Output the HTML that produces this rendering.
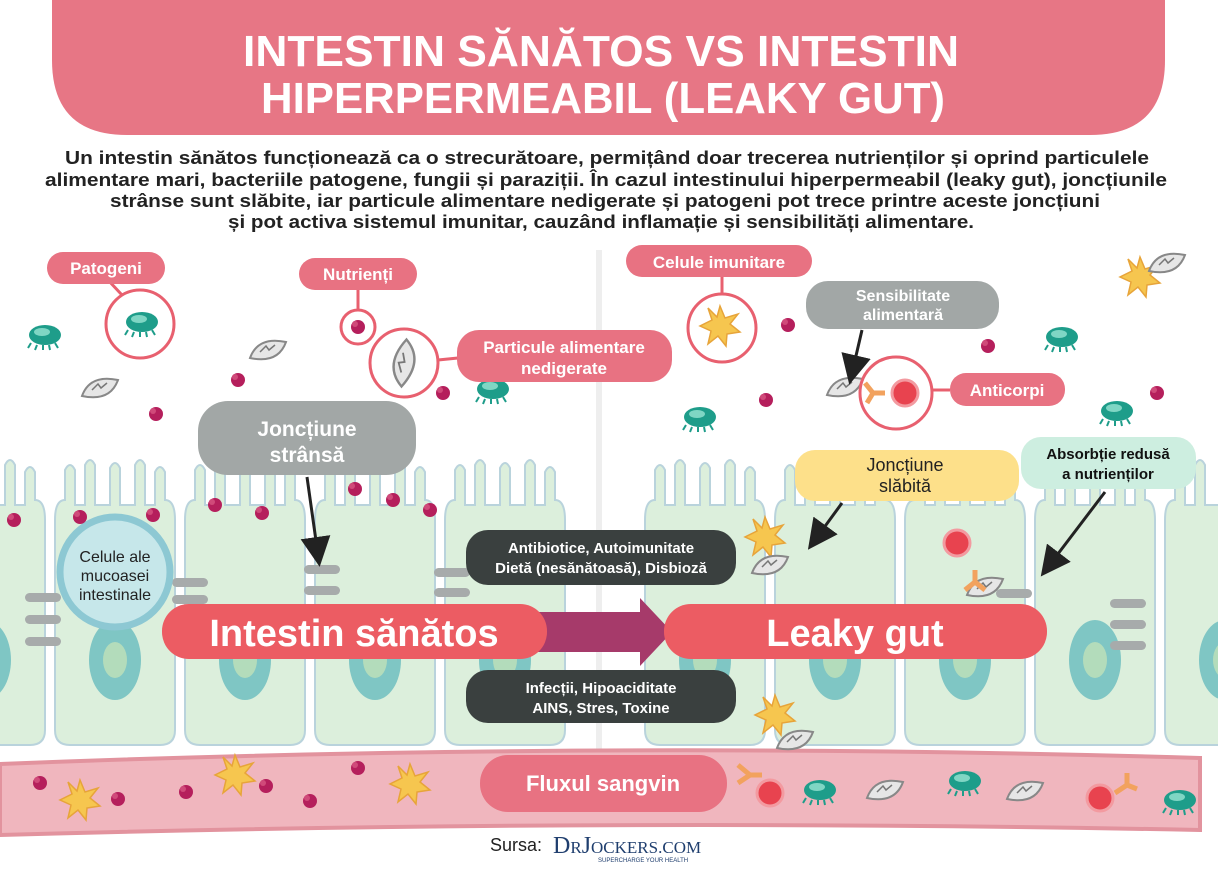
<!DOCTYPE html>
<html><head><meta charset="utf-8"><style>
html,body{margin:0;padding:0;background:#fff;}
svg{display:block;font-family:"Liberation Sans",sans-serif;}
</style></head><body>
<svg width="1218" height="870" viewBox="0 0 1218 870" xmlns="http://www.w3.org/2000/svg">
<defs>
<g id="cell">
  <path d="M5,270 L5,60 Q5,40 15,40 L15,10 Q20,0 25,10 L25,45 L35,45 L35,5 Q40,-5 45,5 L45,45 L60,45 L60,8 Q65,-2 70,8 L70,45 L85,45 L85,5 Q90,-5 95,5 L95,45 L105,45 L105,12 Q110,2 115,12 L115,40 Q125,40 125,60 L125,270 Q125,285 110,285 L20,285 Q5,285 5,270 Z" fill="#dcefdc" stroke="#b9d3dc" stroke-width="2"/>
  <ellipse cx="65" cy="200" rx="26" ry="40" fill="#7fc6c4"/>
  <ellipse cx="65" cy="200" rx="12" ry="18" fill="#c9e6b8" opacity="0.7"/>
</g>
<g id="dot"><circle r="7" fill="#b51f5c"/><circle cx="-3" cy="-3" r="3" fill="#d04a7a"/></g>
<g id="star"><polygon points="0,-20 5,-8 18,-12 10,-2 20,6 7,8 6,20 -2,10 -12,18 -9,5 -20,0 -8,-6 -12,-18 -3,-9" fill="#f6c64f" stroke="#e7a43a" stroke-width="1.5"/></g>
<g id="bug"><ellipse rx="16" ry="10" fill="#1e9d8a"/><ellipse cx="-3" cy="-3" rx="8" ry="4" fill="#7fd6c4"/><path d="M-14,8 l-3,5 M-8,10 l-2,5 M-2,10 l0,5 M4,10 l1,5 M10,8 l3,5" stroke="#1e9d8a" stroke-width="2"/></g>
<g id="par"><path d="M-18,8 Q-10,-14 18,-8 Q10,14 -18,8 Z" fill="#e6e6e6" stroke="#888" stroke-width="2"/><path d="M-8,2 l6,-6 l3,4 l6,-5" stroke="#777" fill="none" stroke-width="1.5"/></g>
<g id="junc"><rect x="-18" y="-5" width="36" height="9" rx="4.5" fill="#a7abab"/></g>
<marker id="ah" markerWidth="10" markerHeight="10" refX="6" refY="5" orient="auto"><path d="M0,0 L10,5 L0,10 Z" fill="#222"/></marker>
</defs>

<path d="M52,0 L1165,0 L1165,60 Q1165,135 1090,135 L127,135 Q52,135 52,60 Z" fill="#e77685"/>
<g fill="#fff" font-weight="bold" font-size="44" text-anchor="middle">
<text x="601" y="66" textLength="716" lengthAdjust="spacingAndGlyphs">INTESTIN SĂNĂTOS VS INTESTIN</text>
<text x="603" y="113" textLength="684" lengthAdjust="spacingAndGlyphs">HIPERPERMEABIL (LEAKY GUT)</text>
</g>
<g fill="#222" font-size="18" font-weight="bold" text-anchor="middle">
<text x="607" y="164" textLength="1084" lengthAdjust="spacingAndGlyphs">Un intestin sănătos funcționează ca o strecurătoare, permițând doar trecerea nutrienților și oprind particulele</text>
<text x="606" y="186" textLength="1122" lengthAdjust="spacingAndGlyphs">alimentare mari, bacteriile patogene, fungii și paraziții. În cazul intestinului hiperpermeabil (leaky gut), joncțiunile</text>
<text x="605" y="207" textLength="990" lengthAdjust="spacingAndGlyphs">strânse sunt slăbite, iar particule alimentare nedigerate și patogeni pot trece printre aceste joncțiuni</text>
<text x="601" y="228" textLength="746" lengthAdjust="spacingAndGlyphs">și pot activa sistemul imunitar, cauzând inflamație și sensibilități alimentare.</text>
</g>

<rect x="596" y="250" width="6" height="510" fill="#eeeeee"/>

<g>
<use href="#cell" x="-80" y="460"/>
<use href="#cell" x="50" y="460"/>
<use href="#cell" x="180" y="460"/>
<use href="#cell" x="310" y="460"/>
<use href="#cell" x="440" y="460"/>
<use href="#cell" x="640" y="460"/>
<use href="#cell" x="770" y="460"/>
<use href="#cell" x="900" y="460"/>
<use href="#cell" x="1030" y="460"/>
<use href="#cell" x="1160" y="460"/>
</g>
<g>
<use href="#junc" x="43" y="598"/><use href="#junc" x="43" y="620"/><use href="#junc" x="43" y="642"/>
<use href="#junc" x="190" y="583"/><use href="#junc" x="190" y="600"/>
<use href="#junc" x="322" y="570"/><use href="#junc" x="322" y="591"/>
<use href="#junc" x="452" y="573"/><use href="#junc" x="452" y="593"/>
<use href="#junc" x="1014" y="594"/><use href="#junc" x="1128" y="604"/><use href="#junc" x="1128" y="625"/><use href="#junc" x="1128" y="646"/>
</g>
<circle cx="115" cy="572" r="55" fill="#c6e7ea" stroke="#8dc8d3" stroke-width="7"/>
<g font-size="16" fill="#222" text-anchor="middle">
<text x="115" y="562">Celule ale</text><text x="115" y="581">mucoasei</text><text x="115" y="600">intestinale</text>
</g>

<path d="M0,764 Q600,740 1200,758 L1200,830 Q600,818 0,835 Z" fill="#f0b6be" stroke="#e2939e" stroke-width="4"/>

<g>
<use href="#dot" x="14" y="520"/><use href="#dot" x="80" y="517"/><use href="#dot" x="153" y="515"/><use href="#dot" x="215" y="505"/><use href="#dot" x="262" y="513"/><use href="#dot" x="355" y="489"/><use href="#dot" x="393" y="500"/><use href="#dot" x="430" y="510"/>
<use href="#dot" x="238" y="380"/><use href="#dot" x="156" y="414"/><use href="#dot" x="443" y="393"/><use href="#dot" x="358" y="327"/><use href="#dot" x="788" y="325"/><use href="#dot" x="766" y="400"/><use href="#dot" x="988" y="346"/><use href="#dot" x="1157" y="393"/>
<use href="#dot" x="40" y="783"/><use href="#dot" x="118" y="799"/><use href="#dot" x="186" y="792"/><use href="#dot" x="266" y="786"/><use href="#dot" x="310" y="801"/><use href="#dot" x="358" y="768"/>
<use href="#star" x="80" y="800"/><use href="#star" x="235" y="775"/><use href="#star" x="410" y="784"/><use href="#star" x="1140" y="277"/><use href="#star" x="765" y="537"/><use href="#star" x="775" y="715"/><use href="#star" x="720" y="326"/>
<use href="#bug" x="45" y="335"/><use href="#bug" x="142" y="322"/><use href="#bug" x="493" y="389"/><use href="#bug" x="700" y="417"/><use href="#bug" x="1062" y="337"/><use href="#bug" x="1117" y="411"/><use href="#bug" x="820" y="790"/><use href="#bug" x="965" y="781"/><use href="#bug" x="1180" y="800"/>
<use href="#par" x="100" y="388"/><use href="#par" x="268" y="350"/><use href="#par" x="1167" y="263"/><use href="#par" x="845" y="387"/><use href="#par" x="885" y="790"/><use href="#par" x="1025" y="791"/><use href="#par" x="770" y="565"/><use href="#par" x="795" y="740"/><use href="#par" x="985" y="587"/>
<g transform="translate(404,363) rotate(-60) scale(1.2)"><use href="#par"/></g>
</g>
<g stroke="#f2a25e" stroke-width="5" fill="none"><path d="M873,393 l12,0 M873,393 l-8,-10 M873,393 l-6,10"/><path d="M975,570 l0,12 M975,582 l-10,8 M975,582 l10,8"/><path d="M750,775 l-12,-10 M750,775 l-12,8 M750,775 l12,0"/><path d="M1115,793 l12,-8 M1127,785 l0,-12 M1127,785 l10,4"/></g>
<g fill="#e8434f" stroke="#f39aa0" stroke-width="3"><circle cx="905" cy="393" r="13"/><circle cx="957" cy="543" r="13"/><circle cx="770" cy="793" r="13"/><circle cx="1100" cy="798" r="13"/></g>

<g fill="none" stroke="#e8606f" stroke-width="3">
<circle cx="140" cy="324" r="34"/><line x1="108" y1="280" x2="122" y2="295"/>
<circle cx="358" cy="327" r="17"/><line x1="358" y1="288" x2="358" y2="310"/>
<circle cx="404" cy="363" r="34"/><line x1="438" y1="360" x2="458" y2="358"/>
<circle cx="722" cy="328" r="34"/><line x1="722" y1="275" x2="722" y2="294"/>
<circle cx="896" cy="393" r="36"/><line x1="932" y1="390" x2="950" y2="390"/>
</g>

<g fill="#e87282">
<rect x="47" y="252" width="118" height="32" rx="16"/>
<rect x="299" y="258" width="118" height="32" rx="16"/>
<rect x="457" y="330" width="215" height="52" rx="22"/>
<rect x="626" y="245" width="186" height="32" rx="16"/>
<rect x="950" y="373" width="115" height="33" rx="16"/>
</g>
<g fill="#fff" font-size="17" font-weight="bold" text-anchor="middle">
<text x="106" y="274">Patogeni</text>
<text x="358" y="280">Nutrienți</text>
<text x="564" y="353">Particule alimentare</text><text x="564" y="374">nedigerate</text>
<text x="719" y="268">Celule imunitare</text>
<text x="1007" y="396">Anticorpi</text>
</g>

<rect x="198" y="401" width="218" height="74" rx="30" fill="#a2a7a6"/>
<g fill="#fff" font-size="21" font-weight="bold" text-anchor="middle"><text x="307" y="436">Joncțiune</text><text x="307" y="462">strânsă</text></g>
<rect x="806" y="281" width="193" height="48" rx="22" fill="#a2a7a6"/>
<g fill="#fff" font-size="16" font-weight="bold" text-anchor="middle"><text x="903" y="301">Sensibilitate</text><text x="903" y="320">alimentară</text></g>

<rect x="795" y="450" width="224" height="51" rx="20" fill="#fde08a"/>
<g fill="#222" font-size="18" text-anchor="middle"><text x="905" y="471">Joncțiune</text><text x="905" y="492">slăbită</text></g>
<rect x="1021" y="437" width="175" height="52" rx="20" fill="#cdeee0"/>
<g fill="#111" font-size="15" font-weight="bold" text-anchor="middle"><text x="1108" y="459">Absorbție redusă</text><text x="1108" y="479">a nutrienților</text></g>

<g stroke="#222" stroke-width="3" fill="none" marker-end="url(#ah)">
<line x1="307" y1="477" x2="318" y2="555"/>
<line x1="862" y1="330" x2="852" y2="373"/>
<line x1="842" y1="503" x2="815" y2="540"/>
<line x1="1105" y1="492" x2="1048" y2="567"/>
</g>

<rect x="466" y="530" width="270" height="55" rx="22" fill="#3a403f"/>
<g fill="#fff" font-size="15" font-weight="bold" text-anchor="middle"><text x="601" y="553">Antibiotice, Autoimunitate</text><text x="601" y="573">Dietă (nesănătoasă), Disbioză</text></g>
<rect x="466" y="670" width="270" height="53" rx="22" fill="#3a403f"/>
<g fill="#fff" font-size="15" font-weight="bold" text-anchor="middle"><text x="601" y="693">Infecții, Hipoaciditate</text><text x="601" y="713">AINS, Stres, Toxine</text></g>

<polygon points="530,612 640,612 640,598 672,632 640,666 640,652 530,652" fill="#a63a6a"/>
<rect x="162" y="604" width="385" height="55" rx="27" fill="#ec5c63"/>
<text x="354" y="646" fill="#fff" font-size="38" font-weight="bold" text-anchor="middle">Intestin sănătos</text>
<rect x="664" y="604" width="383" height="55" rx="27" fill="#ec5c63"/>
<text x="855" y="646" fill="#fff" font-size="38" font-weight="bold" text-anchor="middle">Leaky gut</text>

<rect x="480" y="755" width="247" height="57" rx="28" fill="#e87282"/>
<text x="603" y="791" fill="#fff" font-size="22" font-weight="bold" text-anchor="middle">Fluxul sangvin</text>

<text x="490" y="851" font-size="18" fill="#222">Sursa:</text>
<text x="553" y="853" font-size="24" fill="#1f3e6e" font-family="Liberation Serif,serif">D<tspan font-size="17">R</tspan>J<tspan font-size="17">OCKERS.COM</tspan></text>
<text x="598" y="862" font-size="6" fill="#1f3e6e">SUPERCHARGE YOUR HEALTH</text>
</svg>
</body></html>
